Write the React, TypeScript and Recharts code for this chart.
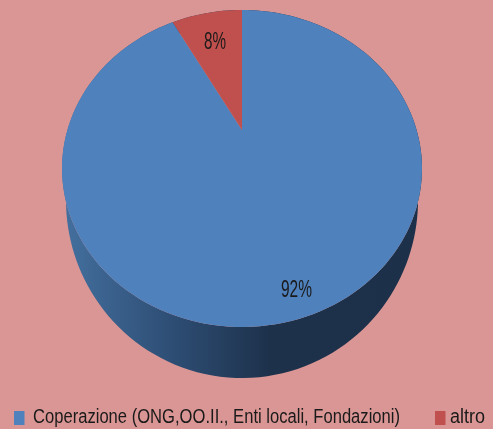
import { Legend, Pie, PieChart } from 'recharts'

const categories = ['Coperazione (ONG,OO.II., Enti locali, Fondazioni)', 'altro']
const shares = [92, 8]
const colors = ['#4F81BD', '#C0504D']

const chartData = categories.map((name, i) => ({ name, value: shares[i] }))

// the picture is a tilted 3D pie, so pie angles go through a small perspective map
const CX = 242
const CY = 168.5
const RX = 174.6
const RY = 158.5
const TILT = 0.243
const BASE = { rx: 0.978, ry: 1.123, cy: 200 }
const NARROW = "'Liberation Sans Narrow', 'Liberation Sans', sans-serif"

function project(angle: number, r = 1) {
  const rad = (angle * Math.PI) / 180
  const u = Math.cos(rad) * r
  const v = Math.sin(rad) * r
  const w = 1 + TILT * v
  return { x: (RX * u) / w, y: (RY * v + RY * TILT) / w }
}

function rim(start: number, end: number) {
  const steps = Math.max(2, Math.ceil(Math.abs(end - start) / 2))
  const out = []
  for (let i = 0; i <= steps; i++) out.push(project(start + ((end - start) * i) / steps))
  return out
}

function TopFace(props: any) {
  const pts = rim(props.startAngle, props.endAngle).map((p) => `${CX + p.x},${CY - p.y}`)
  const apex = project(0, 0)
  return <polygon points={[`${CX + apex.x},${CY - apex.y}`, ...pts].join(' ')} fill={props.fill} stroke="none" />
}

function SideWall(props: any) {
  const pts = rim(props.startAngle, props.endAngle)
  const top = pts.map((p) => `${CX + p.x},${CY - p.y}`)
  const bottom = pts.map((p) => `${CX + p.x * BASE.rx},${BASE.cy - p.y * BASE.ry}`).reverse()
  return <polygon points={[...top, ...bottom].join(' ')} fill="url(#wallGrad)" stroke="none" />
}

const labelSpots = [
  { r: 0.87, dx: 7, width: 31 },
  { r: 0.73, dx: 0, width: 22 },
]

function SliceLabel(props: any) {
  const spot = labelSpots[props.index]
  const p = project(props.midAngle, spot.r)
  return (
    <text
      transform={`translate(${CX + p.x + spot.dx},${CY - p.y + 9}) scale(1,1.3)`}
      textAnchor="middle"
      fontFamily={NARROW}
      fontSize={19}
      fill="#1a1a1a"
      textLength={spot.width}
      lengthAdjust="spacingAndGlyphs"
      style={{ filter: 'blur(0.3px)' }}
    >
      {`${props.value}%`}
    </text>
  )
}

const legendSpots = [
  { box: 14, text: 33, width: 367 },
  { box: 435, text: 450, width: 35 },
]

function LegendRow() {
  return (
    <svg width={493} height={30} style={{ display: 'block' }}>
      {categories.map((name, i) => (
        <g key={name}>
          <rect x={legendSpots[i].box} y={6} width={10.5} height={14} fill={colors[i]} />
          <text
            transform={`translate(${legendSpots[i].text},18) scale(1,1.12)`}
            fontFamily={NARROW}
            fontSize={18}
            fill="#1a1a1a"
            textLength={legendSpots[i].width}
            lengthAdjust="spacingAndGlyphs"
            style={{ filter: 'blur(0.3px)' }}
          >
            {name}
          </text>
        </g>
      ))}
    </svg>
  )
}

export default function App() {
  return (
    <div style={{ position: 'fixed', left: 0, top: 0, width: 493, height: 429, background: '#DA9694' }}>
      <PieChart width={493} height={429} margin={{ top: 0, right: 0, bottom: 0, left: 0 }}>
        <defs>
          <linearGradient id="wallGrad" gradientUnits="userSpaceOnUse" x1="62" y1="0" x2="422" y2="0">
            <stop offset="0%" stopColor="#44709F" />
            <stop offset="30%" stopColor="#2E4E75" />
            <stop offset="58%" stopColor="#1D314B" />
            <stop offset="100%" stopColor="#1C3049" />
          </linearGradient>
        </defs>
        <Pie
          data={chartData}
          dataKey="value"
          nameKey="name"
          cx={CX}
          cy={CY}
          outerRadius={150}
          startAngle={90}
          endAngle={-270}
          stroke="none"
          legendType="none"
          shape={SideWall}
          inactiveShape={SideWall}
          isAnimationActive={false}
        />
        <Pie
          data={chartData.map((d, i) => ({ ...d, fill: colors[i] }))}
          dataKey="value"
          nameKey="name"
          cx={CX}
          cy={CY}
          outerRadius={150}
          startAngle={90}
          endAngle={-270}
          stroke="none"
          shape={TopFace}
          inactiveShape={TopFace}
          label={SliceLabel}
          labelLine={false}
          isAnimationActive={false}
        />
        <Legend content={LegendRow} wrapperStyle={{ position: 'absolute', left: 0, top: 405, bottom: 'auto', width: 493 }} />
      </PieChart>
    </div>
  )
}
